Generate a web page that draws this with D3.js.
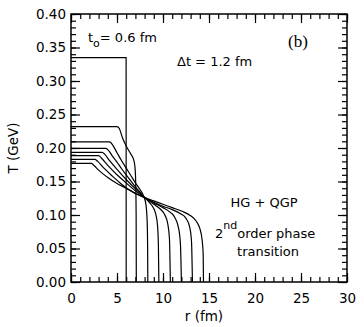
<!DOCTYPE html>
<html>
<head>
<meta charset="utf-8">
<script src="https://cdn.jsdelivr.net/npm/d3@7/dist/d3.min.js"></script>
<style>
  body { margin: 0; background: #fff; }
  svg { display: block; }
  text { font-family: "DejaVu Sans", sans-serif; fill: #000; }
  .tick line { stroke: #000; stroke-width: 1.2; }
  .domain { display: none; }
</style>
</head>
<body>
<svg id="chart" width="364" height="327"></svg>
<script>
// tick labels
var xTicks = [0, 5, 10, 15, 20, 25, 30];
var yTicks = [0.00, 0.05, 0.10, 0.15, 0.20, 0.25, 0.30, 0.35, 0.40];

// temperature profiles [r (fm), T (GeV)], one per time step (dt = 1.2 fm)
var profile06 = [[0, .335], [5.99, .335], [6.0, 0]];
var profile18 = [[0, .232], [5.0, .232], [5.25, .229], [5.6, .215], [6.0, .203], [6.5, .191],
                 [6.8, .183], [6.95, .172], [7.03, .15], [7.08, .1], [7.1, 0]];
var profile30 = [[0, .209], [4.2, .209], [4.5, .205], [5, .193], [5.5, .181], [6, .17], [6.5, .159],
                 [7, .148], [7.5, .138], [7.9, .128], [8.15, .115], [8.28, .09], [8.33, .05], [8.35, 0]];
var profile42 = [[0, .1995], [3.8, .1995], [4.1, .196], [4.5, .188], [5, .179], [5.5, .169], [6, .16],
                 [6.5, .151], [7, .142], [7.5, .134], [8, .126], [8.5, .119], [8.9, .112], [9.2, .102],
                 [9.4, .085], [9.5, .055], [9.55, 0]];
var profile54 = [[0, .1936], [3.4, .1936], [3.7, .19], [4.2, .181], [5, .168], [6, .153], [7, .139],
                 [8, .126], [9, .116], [9.7, .109], [10.2, .1], [10.5, .088], [10.7, .065], [10.8, 0]];
var profile66 = [[0, .1885], [3.0, .1885], [3.3, .185], [4, .174], [5, .16], [6, .148], [7, .136],
                 [8, .126], [9, .118], [10, .111], [10.8, .104], [11.3, .096], [11.7, .08], [11.9, .055], [12, 0]];
var profile78 = [[0, .183], [2.6, .183], [2.9, .18], [3.5, .171], [4.5, .158], [5.5, .146], [6.5, .136],
                 [7.5, .129], [8, .126], [9, .119], [10, .113], [11, .108], [11.9, .102], [12.5, .095],
                 [12.9, .082], [13.1, .06], [13.2, 0]];
var profile90 = [[0, .177], [2.2, .177], [2.5, .174], [3, .167], [4, .156], [5, .147], [6, .14], [7, .132],
                 [8, .126], [9, .121], [10, .116], [11, .111], [12, .106], [13, .099], [13.6, .091],
                 [14.0, .08], [14.25, .063], [14.37, .04], [14.4, 0]];

var profiles = [profile06, profile18, profile30, profile42, profile54, profile66, profile78, profile90];

var plotLeft = 71, plotRight = 347, plotTop = 14, plotBottom = 282;
var svg = d3.select("#chart");

var x = d3.scaleLinear().domain([0, 30]).range([plotLeft, plotRight]);
var y = d3.scaleLinear().domain([0, 0.4]).range([plotBottom, plotTop]);

var minorX = d3.range(0, 31, 1), minorY = d3.range(0, 41, 1).map(function (d) { return d / 100; });

// minor ticks (inward, all four sides)
svg.append("g").attr("transform", "translate(0," + plotBottom + ")")
  .call(d3.axisBottom(x).tickValues(minorX).tickSize(-5).tickFormat(""));
svg.append("g").attr("transform", "translate(0," + plotTop + ")")
  .call(d3.axisTop(x).tickValues(minorX).tickSize(-5).tickFormat(""));
svg.append("g").attr("transform", "translate(" + plotLeft + ",0)")
  .call(d3.axisLeft(y).tickValues(minorY).tickSize(-5).tickFormat(""));
svg.append("g").attr("transform", "translate(" + plotRight + ",0)")
  .call(d3.axisRight(y).tickValues(minorY).tickSize(-5).tickFormat(""));

// major ticks + labels
svg.append("g").attr("transform", "translate(0," + plotBottom + ")")
  .call(d3.axisBottom(x).tickValues(xTicks).tickSize(-9).tickPadding(11))
  .selectAll("text").style("font-size", "13.5px");
svg.append("g").attr("transform", "translate(0," + plotTop + ")")
  .call(d3.axisTop(x).tickValues(xTicks).tickSize(-9).tickFormat(""));
svg.append("g").attr("transform", "translate(" + plotLeft + ",0)")
  .call(d3.axisLeft(y).tickValues(yTicks).tickSize(-9).tickPadding(5).tickFormat(d3.format(".2f")))
  .selectAll("text").style("font-size", "13.5px");
svg.append("g").attr("transform", "translate(" + plotRight + ",0)")
  .call(d3.axisRight(y).tickValues(yTicks).tickSize(-9).tickFormat(""));

// frame
svg.append("rect")
  .attr("x", plotLeft).attr("y", plotTop)
  .attr("width", plotRight - plotLeft).attr("height", plotBottom - plotTop)
  .attr("fill", "none").attr("stroke", "#000").attr("stroke-width", 1.5);

// curves
var straight = d3.line()
  .x(function (d) { return x(d[0]); })
  .y(function (d) { return y(d[1]); });
var smooth = d3.line()
  .x(function (d) { return x(d[0]); })
  .y(function (d) { return y(d[1]); })
  .curve(d3.curveMonotoneX);

svg.append("g").selectAll("path")
  .data(profiles)
  .enter().append("path")
  .attr("d", function (d, i) { return i === 0 ? straight(d) : smooth(d); })
  .attr("fill", "none")
  .attr("stroke", "#000")
  .attr("stroke-width", 1.2);

// axis titles
svg.append("text")
  .attr("x", 204).attr("y", 321)
  .attr("text-anchor", "middle")
  .style("font-size", "13.5px")
  .text("r (fm)");
svg.append("text")
  .attr("transform", "translate(18,148) rotate(-90)")
  .attr("text-anchor", "middle")
  .style("font-size", "13.5px")
  .text("T (GeV)");

// annotations
var t0 = svg.append("text").attr("x", 88).attr("y", 42).style("font-size", "13px");
t0.append("tspan").text("t");
t0.append("tspan").attr("dy", 5).style("font-size", "11px").text("o");
t0.append("tspan").attr("dy", -5).text("= 0.6 fm");

svg.append("text").attr("x", 177).attr("y", 66).style("font-size", "13px").text("\u0394t = 1.2 fm");

svg.append("text").attr("x", 288).attr("y", 47)
  .style("font-family", "'Liberation Serif', serif").style("font-size", "17px").text("(b)");

svg.append("text").attr("x", 264).attr("y", 207).attr("text-anchor", "middle")
  .style("font-size", "13px").text("HG + QGP");
var ord = svg.append("text").attr("x", 215).attr("y", 238).style("font-size", "13px");
ord.append("tspan").text("2");
ord.append("tspan").attr("dy", -9).style("font-size", "11px").text("nd");
ord.append("tspan").attr("dy", 9).text("order phase");
svg.append("text").attr("x", 268).attr("y", 256).attr("text-anchor", "middle")
  .style("font-size", "13px").text("transition");
</script>
</body>
</html>
